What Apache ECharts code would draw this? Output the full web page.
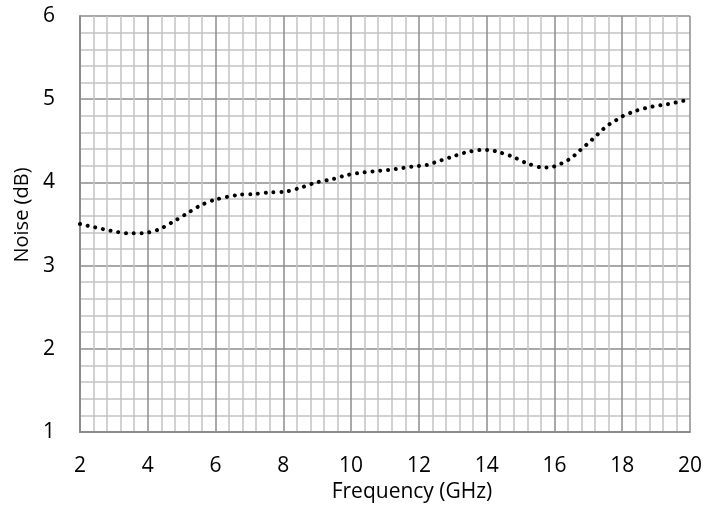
<!DOCTYPE html>
<html>
<head>
<meta charset="utf-8">
<script src="https://cdn.jsdelivr.net/npm/echarts@6/dist/echarts.min.js"></script>
<style>html,body{margin:0;padding:0;background:#fff}#c{width:719px;height:512px}</style>
</head>
<body>
<div id="c"></div>
<script>
const freq = [2.0,2.44,2.9,3.38,3.84,4.3,4.72,5.13,5.54,5.97,6.67,7.14,7.61,8.08,8.54,8.98,9.46,9.9,10.38,10.85,11.31,11.79,12.25,12.47,12.92,13.38,13.84,14.08,14.3,14.76,15.19,15.65,15.88,16.1,16.32,16.52,16.71,16.88,17.05,17.23,17.41,17.59,17.79,17.98,18.4,18.87,19.34,19.8,20.0];
const noise = [3.50,3.46,3.42,3.39,3.39,3.43,3.52,3.62,3.72,3.79,3.85,3.86,3.88,3.89,3.94,4.00,4.04,4.09,4.12,4.14,4.16,4.19,4.21,4.24,4.30,4.36,4.39,4.39,4.37,4.31,4.23,4.18,4.18,4.21,4.25,4.30,4.37,4.43,4.49,4.56,4.63,4.69,4.74,4.79,4.86,4.91,4.94,4.98,4.99];
const xName = 'Frequency (GHz)';
const yName = 'Noise (dB)';

const chart = echarts.init(document.getElementById('c'), null, {renderer:'canvas'});
const font = 'Open Sans';
chart.setOption({
  animation: false,
  grid: {left: 80, right: 29, top: 16, bottom: 80},
  xAxis: {
    type: 'value', min: 2, max: 20, interval: 2,
    name: xName, nameLocation: 'middle', nameGap: 50,
    nameTextStyle: {fontFamily: font, fontSize: 21, color: '#000', padding: [0, 0, 0, 54]},
    axisLine: {show: true, lineStyle: {color: '#8c8c8c', width: 2}},
    axisTick: {show: false},
    axisLabel: {margin: 24, fontFamily: font, fontSize: 21, color: '#000'},
    splitLine: {show: true, lineStyle: {color: '#8c8c8c', width: 1.5}},
    minorTick: {show: false, splitNumber: 5},
    minorSplitLine: {show: true, lineStyle: {color: '#c4c4c4', width: 1.5}}
  },
  yAxis: {
    type: 'value', min: 1, max: 6, interval: 1,
    name: yName, nameLocation: 'middle', nameGap: 42,
    nameTextStyle: {fontFamily: font, fontSize: 20, color: '#000', padding: [0, 0, 0, 18]},
    axisLine: {show: true, lineStyle: {color: '#8c8c8c', width: 2}},
    axisTick: {show: false},
    axisLabel: {margin: 25, fontFamily: font, fontSize: 21, color: '#000'},
    splitLine: {show: true, lineStyle: {color: '#8c8c8c', width: 1.5}},
    minorTick: {show: false, splitNumber: 5},
    minorSplitLine: {show: true, lineStyle: {color: '#c4c4c4', width: 1.5}}
  },
  series: [{
    type: 'line',
    data: freq.map((f, i) => [f, noise[i]]),
    smooth: 0.3,
    showSymbol: false,
    lineStyle: {color: '#000', width: 4, cap: 'round', type: [0.01, 7.8]}
  }]
});
</script>
</body>
</html>
